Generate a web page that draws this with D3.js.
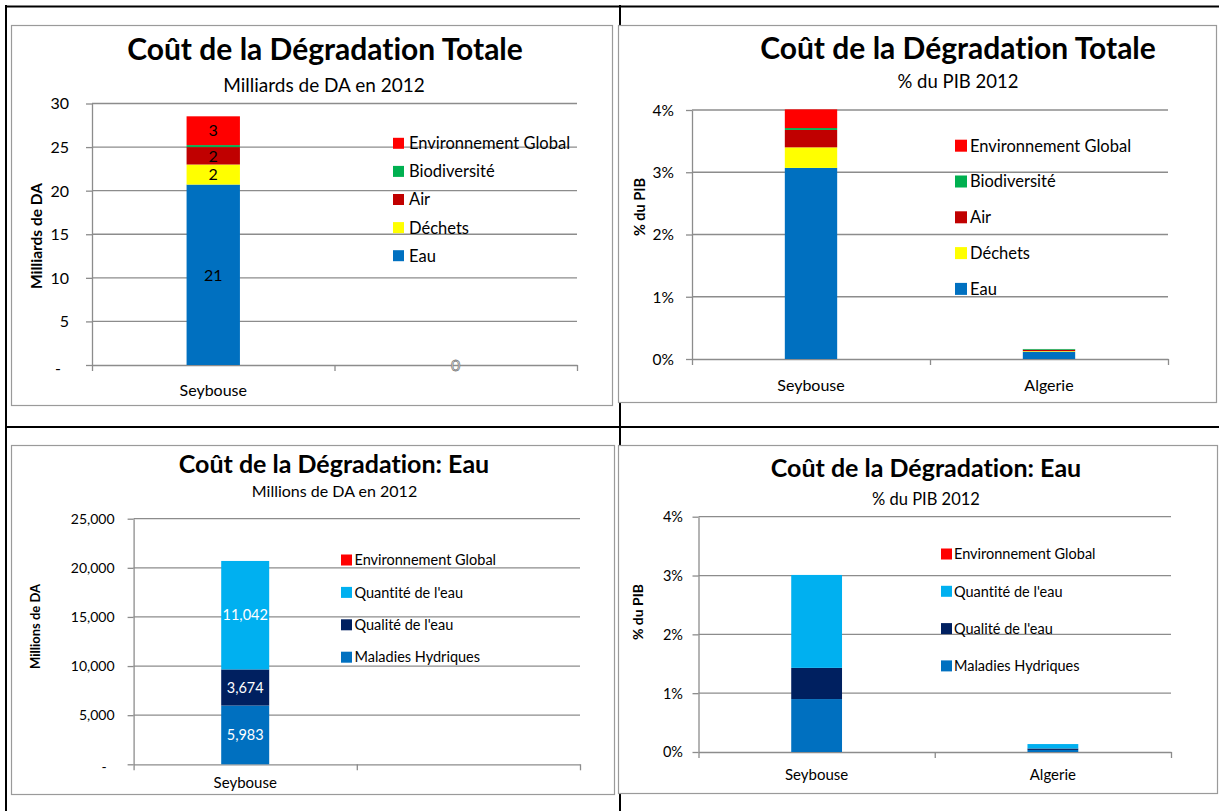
<!DOCTYPE html>
<html>
<head>
<meta charset="utf-8">
<script src="https://cdn.jsdelivr.net/npm/d3@7"></script>
<style>
  body { margin: 0; background: #fff; }
  svg { display: block; }
  text { font-family: Lato, "Open Sans", "Noto Sans", sans-serif; fill: #000; font-variant-ligatures: none; }
</style>
</head>
<body>
<svg id="chart" width="1219" height="811"></svg>
<script>
// ---- Categories ----
const categoriesDA = ["Seybouse", ""];
const categoriesPib = ["Seybouse", "Algerie"];

// ---- Coût de la dégradation totale ----
const totalSeries = ["Eau", "Déchets", "Air", "Biodiversité", "Environnement Global"];
const totalColors = ["#0070C0", "#FFFF00", "#C00000", "#00B050", "#FF0000"];

// Milliards de DA en 2012
const eauMilliards = [20.7, 0];
const dechetsMilliards = [2.3, null];
const airMilliards = [2.0, null];
const biodivMilliards = [0.23, null];
const envGlobalMilliards = [3.3, null];

// % du PIB 2012
const eauPib = [3.07, 0.117];
const dechetsPib = [0.33, 0.010];
const airPib = [0.28, 0.022];
const biodivPib = [0.03, 0.012];
const envGlobalPib = [0.30, 0];

// ---- Coût de la dégradation : eau ----
const eauSeries = ["Maladies Hydriques", "Qualité de l'eau", "Quantité de l'eau", "Environnement Global"];
const eauColors = ["#0070C0", "#002060", "#00B0F0", "#FF0000"];

// Millions de DA en 2012
const maladiesMillions = [5983, null];
const qualiteMillions = [3674, null];
const quantiteMillions = [11042, null];
const envGlobalEauMillions = [null, null];

// % du PIB 2012
const maladiesPib = [0.90, 0.035];
const qualitePib = [0.53, 0.025];
const quantitePib = [1.58, 0.075];
const envGlobalEauPib = [null, null];

// ---- Axis ticks ----
const ticksMilliards = [0, 5, 10, 15, 20, 25, 30];
const ticksMillions = [0, 5000, 10000, 15000, 20000, 25000];
const ticksPib = [0, 1, 2, 3, 4];

const svg = d3.select("#chart");
const GRID = "#8c8c8c";

// Table rules behind the four charts
const rules = svg.append("g").attr("stroke", "#000").attr("stroke-width", 2);
rules.append("line").attr("x1", 5).attr("x2", 1219).attr("y1", 6.5).attr("y2", 6.5);
rules.append("line").attr("x1", 6).attr("x2", 6).attr("y1", 5).attr("y2", 811);
rules.append("line").attr("x1", 620).attr("x2", 620).attr("y1", 5).attr("y2", 811);
rules.append("line").attr("x1", 5).attr("x2", 1219).attr("y1", 427).attr("y2", 427);

function fit(sel, w) {
  const n = sel.node().getComputedTextLength();
  if (n > w) sel.attr("textLength", w).attr("lengthAdjust", "spacingAndGlyphs");
  return sel;
}

function drawPanel(cfg) {
  const g = svg.append("g");
  const [fx0, fy0, fx1, fy1] = cfg.frame;
  g.append("rect")
    .attr("x", fx0 + 0.5).attr("y", fy0 + 0.5)
    .attr("width", fx1 - fx0).attr("height", fy1 - fy0)
    .attr("fill", "#fff").attr("stroke", "#9a9a9a").attr("stroke-width", 1.2);

  // titles
  fit(g.append("text").attr("x", cfg.title.cx).attr("y", cfg.title.y)
    .attr("text-anchor", "middle").attr("font-weight", 700)
    .attr("font-size", cfg.title.size).text(cfg.titleText), cfg.title.w);
  fit(g.append("text").attr("x", cfg.sub.cx).attr("y", cfg.sub.y)
    .attr("text-anchor", "middle").attr("font-size", cfg.sub.size)
    .text(cfg.subText), cfg.sub.w);

  const p = cfg.plot;
  const n = cfg.categories.length;
  const x = d3.scaleBand().domain(d3.range(n)).range([p.x0, p.x1]);
  const y = d3.scaleLinear().domain([0, d3.max(cfg.ticks)]).range([p.yBase, p.yTop]);

  // gridlines
  g.append("g").selectAll("line").data(cfg.ticks.filter(t => t > 0)).join("line")
    .attr("x1", p.x0).attr("x2", p.x1)
    .attr("y1", d => y(d)).attr("y2", d => y(d))
    .attr("stroke", GRID).attr("stroke-width", 1.3);

  // value axis
  const yAxis = g.append("g").attr("transform", `translate(${p.x0},0)`)
    .call(d3.axisLeft(y).tickValues(cfg.ticks).tickSizeInner(6).tickSizeOuter(0)
      .tickPadding(p.x0 - 6 - cfg.tickLabelX).tickFormat(cfg.tickFormat));
  yAxis.selectAll("path, line").attr("stroke", GRID).attr("stroke-width", 1.3);
  yAxis.selectAll("text").attr("font-size", cfg.tickSize).attr("fill", "#000")
    .attr("font-family", null)
    .attr("dx", d => d === 0 && cfg.zeroDash ? -8 : 0)
    .attr("dy", d => d === 0 && cfg.zeroDash ? "0.5em" : "0.34em");

  // category axis: boundaries with ticks
  const xb = d3.scaleLinear().domain([0, n]).range([p.x0, p.x1]);
  const xAxis = g.append("g").attr("transform", `translate(0,${p.yBase})`)
    .call(d3.axisBottom(xb).tickValues(d3.range(n + 1)).tickSizeInner(6).tickSizeOuter(0).tickFormat(""));
  xAxis.selectAll("path, line").attr("stroke", GRID).attr("stroke-width", 1.3);

  // category labels
  g.append("g").selectAll("text").data(cfg.categories).join("text")
    .attr("x", (d, i) => x(i) + x.bandwidth() / 2).attr("y", cfg.catY)
    .attr("text-anchor", "middle").attr("font-size", cfg.catSize).text(d => d);

  // y title
  g.append("text")
    .attr("transform", `translate(${cfg.yTitle.x},${cfg.yTitle.cy}) rotate(-90)`)
    .attr("text-anchor", "middle").attr("dominant-baseline", "central")
    .attr("font-weight", 700).attr("font-size", cfg.yTitle.size).text(cfg.yTitleText);

  // stacked bars
  const rows = cfg.categories.map((c, i) => {
    const r = { i };
    cfg.series.forEach((s, k) => { r[s] = cfg.values[k][i]; });
    return r;
  });
  const stacked = d3.stack().keys(cfg.series).value((d, k) => d[k] == null ? 0 : d[k])(rows);
  const bw = x.bandwidth() * cfg.barFrac;
  const bars = g.append("g");
  stacked.forEach((layer, k) => {
    bars.append("g").attr("fill", cfg.colors[k])
      .selectAll("rect").data(layer.filter(d => d.data[cfg.series[k]] > 0)).join("rect")
      .attr("x", d => x(d.data.i) + (x.bandwidth() - bw) / 2)
      .attr("width", bw)
      .attr("y", d => y(d[1]))
      .attr("height", d => y(d[0]) - y(d[1]));
  });

  // value labels
  if (cfg.labelSeries) {
    const lab = g.append("g");
    stacked.forEach((layer, k) => {
      if (!cfg.labelSeries.includes(cfg.series[k])) return;
      layer.filter(d => d.data[cfg.series[k]] != null).forEach(d => {
        const v = d.data[cfg.series[k]];
        const t = lab.append("text")
          .attr("x", x(d.data.i) + x.bandwidth() / 2)
          .attr("y", y((d[0] + d[1]) / 2))
          .attr("dy", "0.36em")
          .attr("text-anchor", "middle")
          .attr("font-size", cfg.labelSize)
          .text(cfg.labelFormat(v));
        if (v === 0) {
          t.style("fill", "#fff").attr("stroke", "#7a7a7a").attr("stroke-width", 0.8);
        } else {
          t.style("fill", cfg.labelColor);
        }
      });
    });
  }

  // legend (top entry = last series)
  const L = cfg.legend;
  const items = cfg.series.map((s, k) => ({ s, c: cfg.colors[k] })).reverse();
  const leg = g.append("g");
  items.forEach((it, j) => {
    const cy = L.y0 + j * L.dy;
    leg.append("rect").attr("x", L.sqX).attr("y", cy - L.sq / 2)
      .attr("width", L.sq).attr("height", L.sq).attr("fill", it.c);
    fit(leg.append("text").attr("x", L.textX).attr("y", cy).attr("dy", "0.36em")
      .attr("font-size", L.size).text(it.s), it.s === "Environnement Global" ? L.w : 999);
  });
}

const fmtDash = d => d === 0 ? "-" : d3.format(",")(d);
const fmtPct = d => d + "%";

// Coût de la Dégradation Totale — Milliards de DA
drawPanel({
  frame: [11, 25, 612, 405],
  titleText: "Coût de la Dégradation Totale",
  title: { cx: 325, y: 60, size: 30, w: 408 },
  subText: "Milliards de DA en 2012",
  sub: { cx: 324, y: 91.5, size: 19, w: 212 },
  plot: { x0: 92, x1: 577, yTop: 103.5, yBase: 365 },
  categories: categoriesDA,
  ticks: ticksMilliards, tickFormat: fmtDash, zeroDash: true,
  tickLabelX: 69, tickSize: 16,
  catY: 396, catSize: 16,
  yTitleText: "Milliards de DA",
  yTitle: { x: 36, cy: 236, size: 15.5 },
  series: totalSeries, colors: totalColors,
  values: [eauMilliards, dechetsMilliards, airMilliards, biodivMilliards, envGlobalMilliards],
  barFrac: 0.22,
  labelSeries: ["Eau", "Déchets", "Air", "Environnement Global"],
  labelFormat: d3.format(".0f"), labelSize: 16, labelColor: "#000",
  legend: { sqX: 393, sq: 11, textX: 409, y0: 143.3, dy: 28.1, size: 16.5, w: 167 }
});

// Coût de la Dégradation Totale — % du PIB
drawPanel({
  frame: [618, 25, 1216, 402],
  titleText: "Coût de la Dégradation Totale",
  title: { cx: 958, y: 58.5, size: 30, w: 408 },
  subText: "% du PIB 2012",
  sub: { cx: 958, y: 88.3, size: 18.5, w: 126 },
  plot: { x0: 692, x1: 1168, yTop: 110, yBase: 359 },
  categories: categoriesPib,
  ticks: ticksPib, tickFormat: fmtPct, zeroDash: false,
  tickLabelX: 674, tickSize: 15.5,
  catY: 390.7, catSize: 16,
  yTitleText: "% du PIB",
  yTitle: { x: 639, cy: 207, size: 14.5 },
  series: totalSeries, colors: totalColors,
  values: [eauPib, dechetsPib, airPib, biodivPib, envGlobalPib],
  barFrac: 0.22,
  labelSeries: null,
  legend: { sqX: 955, sq: 12, textX: 970, y0: 145.7, dy: 35.8, size: 16.5, w: 167 }
});

// Coût de la Dégradation: Eau — Millions de DA
drawPanel({
  frame: [11, 445, 614, 794],
  titleText: "Coût de la Dégradation: Eau",
  title: { cx: 334, y: 472.7, size: 25, w: 344 },
  subText: "Millions de DA en 2012",
  sub: { cx: 334.5, y: 496.7, size: 16, w: 185 },
  plot: { x0: 133.6, x1: 580, yTop: 518.7, yBase: 764.3 },
  categories: categoriesDA,
  ticks: ticksMillions, tickFormat: fmtDash, zeroDash: true,
  tickLabelX: 114.6, tickSize: 14,
  catY: 788.3, catSize: 15,
  yTitleText: "Millions de DA",
  yTitle: { x: 35, cy: 626.5, size: 13 },
  series: eauSeries, colors: eauColors,
  values: [maladiesMillions, qualiteMillions, quantiteMillions, envGlobalEauMillions],
  barFrac: 0.215,
  labelSeries: ["Maladies Hydriques", "Qualité de l'eau", "Quantité de l'eau"],
  labelFormat: d3.format(","), labelSize: 14.5, labelColor: "#fff",
  legend: { sqX: 341, sq: 11, textX: 354.5, y0: 560, dy: 32.4, size: 14.5, w: 150 }
});

// Coût de la Dégradation: Eau — % du PIB
drawPanel({
  frame: [618, 445, 1217, 793],
  titleText: "Coût de la Dégradation: Eau",
  title: { cx: 926, y: 476.7, size: 25, w: 345 },
  subText: "% du PIB 2012",
  sub: { cx: 926, y: 505, size: 16.5, w: 114 },
  plot: { x0: 698.5, x1: 1171, yTop: 516.7, yBase: 752 },
  categories: categoriesPib,
  ticks: ticksPib, tickFormat: fmtPct, zeroDash: false,
  tickLabelX: 683, tickSize: 14.5,
  catY: 780, catSize: 15,
  yTitleText: "% du PIB",
  yTitle: { x: 637, cy: 612, size: 14 },
  series: eauSeries, colors: eauColors,
  values: [maladiesPib, qualitePib, quantitePib, envGlobalEauPib],
  barFrac: 0.215,
  labelSeries: null,
  legend: { sqX: 941, sq: 11, textX: 954, y0: 554, dy: 37.3, size: 14.5, w: 149 }
});
</script>
</body>
</html>
